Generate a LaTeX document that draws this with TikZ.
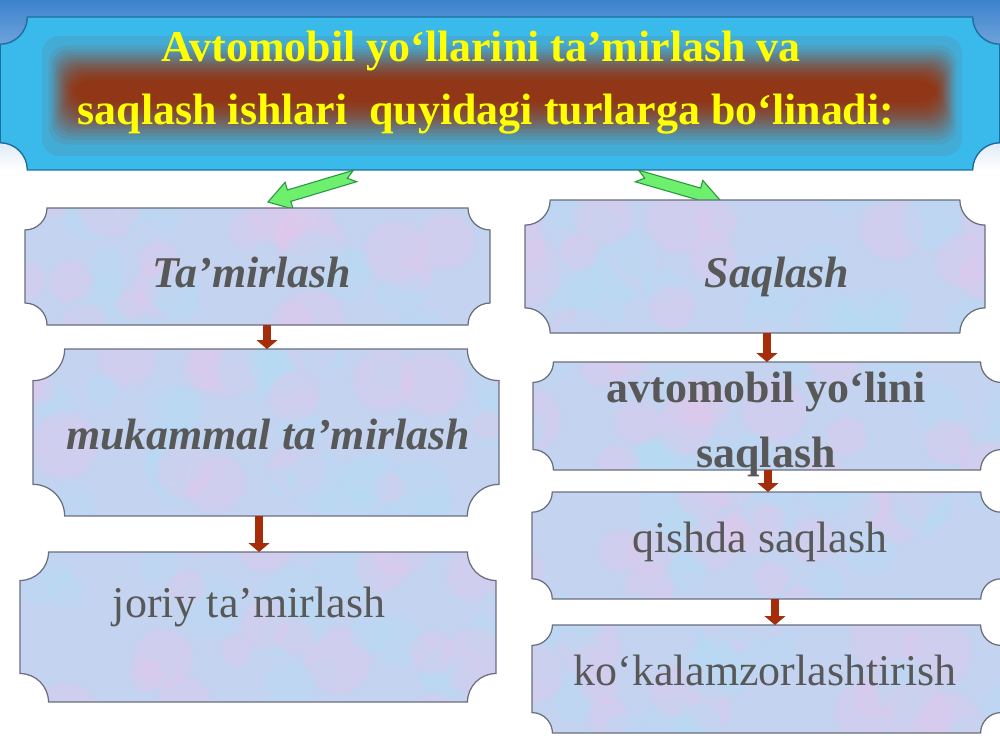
\documentclass[tikz,border=0pt]{standalone}
\usepackage{fontspec}
\setmainfont{Liberation Serif}
\usetikzlibrary{arrows.meta,fadings}
\definecolor{boxfill}{RGB}{196,211,240}
\definecolor{mottlepink}{RGB}{226,200,236}
\definecolor{mottlecyan}{RGB}{182,220,244}
\definecolor{boxline}{RGB}{105,110,125}
\definecolor{txtgray}{RGB}{88,88,88}
\definecolor{bannerblue}{RGB}{58,185,235}
\definecolor{bannerline}{RGB}{30,110,160}
\definecolor{bandred}{RGB}{160,45,5}
\definecolor{titleyellow}{RGB}{255,255,0}
\definecolor{arrowbrown}{RGB}{165,45,10}
\definecolor{arrowgreen}{RGB}{110,240,110}
\definecolor{arrowgreenline}{RGB}{40,150,60}
\definecolor{skytop}{RGB}{60,130,205}

% plaque with concave corners around a node: #1 node, #2 radius, #3 style
\newcommand\plaque[3]{%
 \path[#3] ([xshift=#2]#1.north west) -- ([xshift=-#2]#1.north east)
 .. controls ([xshift=-#2,yshift=-0.55*#2]#1.north east) and ([xshift=-0.55*#2,yshift=-#2]#1.north east) .. ([yshift=-#2]#1.north east)
 -- ([yshift=#2]#1.south east)
 .. controls ([xshift=-0.55*#2,yshift=#2]#1.south east) and ([xshift=-#2,yshift=0.55*#2]#1.south east) .. ([xshift=-#2]#1.south east)
 -- ([xshift=#2]#1.south west)
 .. controls ([xshift=#2,yshift=0.55*#2]#1.south west) and ([xshift=0.55*#2,yshift=#2]#1.south west) .. ([yshift=#2]#1.south west)
 -- ([yshift=-#2]#1.north west)
 .. controls ([xshift=0.55*#2,yshift=-#2]#1.north west) and ([xshift=#2,yshift=-0.55*#2]#1.north west) .. cycle;}

\tikzset{
 area/.style={rectangle, draw=none, inner sep=0pt, outer sep=0pt},
 boxtext/.style={text=txtgray, inner sep=0pt, anchor=base, font=\fontsize{25}{30}\selectfont},
 boldtext/.style={boxtext, font=\fontsize{25}{30}\selectfont\bfseries},
 bitext/.style={boxtext, font=\fontsize{25}{30}\selectfont\bfseries\itshape},
 titletext/.style={text=titleyellow, inner sep=0pt, anchor=base, font=\fontsize{25}{30}\selectfont\bfseries},
 brownarr/.style={draw=arrowbrown, line width=5pt, -{Triangle[width=11.5pt,length=5pt]}},
 greenarr/.style={fill=arrowgreen, draw=arrowgreenline, line width=0.6pt, line join=miter}
}

\begin{document}
\begin{tikzpicture}[x=0.02cm, y=-0.02cm]
\useasboundingbox (0,0) rectangle (1000,750);
\fill[white] (0,0) rectangle (1000,750);
\shade[top color=skytop, bottom color=white] (0,0) rectangle (1000,170);

% banner
\node[area, minimum width=20cm, minimum height=3.06cm] (banner) at (500,93.5) {};
\plaque{banner}{15.5pt}{fill=bannerblue, draw=bannerline, line width=0.8pt}
\foreach \i in {0,...,24}{
  \pgfmathsetmacro\t{sqrt(\i/24)}
  \fill[bandred, opacity=0.09, rounded corners=10pt] ({42+33*\t},{36+46*\t}) rectangle ({962-27*\t},{156-56*\t});
}
\node[titletext] (title1) at (481,62) {Avtomobil yo‘llarini ta’mirlash va};
\node[titletext] (title2) at (486,125) {saqlash ishlari~ quyidagi turlarga bo‘linadi:};

% green arrows
\path[greenarr] (353.3,170.3) -- (287.4,190.0) -- (285.1,182.3) -- (268,202) -- (293.1,209.1) -- (290.8,201.4) -- (356.7,181.7) -- (347.3,178.3) -- cycle;
\path[greenarr] (638.7,170.2) -- (700.6,188.1) -- (702.8,180.4) -- (720,200) -- (695.0,207.4) -- (697.2,199.7) -- (635.3,181.8) -- (644.7,178.2) -- cycle;

% boxes
\node[area, minimum width=9.3cm,  minimum height=2.34cm] (L1) at (257.5,266.5) {};
\node[area, minimum width=9.32cm, minimum height=3.34cm] (L2) at (266,432.5) {};
\node[area, minimum width=9.52cm, minimum height=3.0cm]  (L3) at (258,627) {};
\node[area, minimum width=9.2cm,  minimum height=2.66cm] (R1) at (755,266.5) {};
\node[area, minimum width=9.36cm, minimum height=2.16cm] (R2) at (767,416) {};
\node[area, minimum width=9.38cm, minimum height=2.14cm] (R3) at (766.5,545.5) {};
\node[area, minimum width=9.38cm, minimum height=2.16cm] (R4) at (766.5,679) {};
\pgfmathsetseed{11}
\foreach \b/\r in {L1/12.5pt,L2/18pt,L3/16.2pt,R1/14.3pt,R2/11.6pt,R3/11.5pt,R4/11.6pt}{
  \plaque{\b}{\r}{fill=boxfill}
  \begin{scope}
    \plaque{\b}{\r}{clip}
    \foreach \k in {1,...,40}{
      \pgfmathsetmacro\dx{500*rnd-250}
      \pgfmathsetmacro\dy{180*rnd-90}
      \pgfmathsetmacro\rr{16+22*rnd}
      \pgfmathsetmacro\cc{rnd}
      \ifdim\cc pt<0.45pt \def\tc{mottlepink}\else\def\tc{mottlecyan}\fi
      \fill[\tc, opacity=0.4, path fading=circle with fuzzy edge 20 percent] ([shift={(\dx,\dy)}]\b.center) circle[radius=\rr];
    }
  \end{scope}
  \plaque{\b}{\r}{draw=boxline, line width=0.7pt}
}

% texts
\node[bitext] (tL1) at (252,287) {Ta’mirlash};
\node[bitext] (tL2) at (268,449) {mukammal ta’mirlash};
\node[boxtext] (tL3) at (249,617) {joriy ta’mirlash};
\node[bitext] (tR1) at (777,287) {Saqlash};
\node[boldtext] (tR2a) at (766,402) {avtomobil yo‘lini};
\node[boldtext] (tR2b) at (766,467) {saqlash};
\node[boxtext] (tR3) at (760,552) {qishda saqlash};
\node[boxtext] (tR4) at (765,685) {ko‘kalamzorlashtirish};

% brown arrows
\draw[brownarr] ([xshift=5.39pt]L1.south) -- ([xshift=5.39pt]L1.south |- L2.north);
\draw[brownarr] ([xshift=-3.97pt]L2.south) -- ([xshift=-3.97pt]L2.south |- L3.north);
\draw[brownarr] ([xshift=6.8pt]R1.south) -- ([xshift=6.8pt]R1.south |- R2.north);
\draw[brownarr] ([xshift=0.57pt]R2.south) -- ([xshift=0.57pt]R2.south |- R3.north);
\draw[brownarr] ([xshift=4.82pt]R3.south) -- ([xshift=4.82pt]R3.south |- R4.north);
\end{tikzpicture}
\end{document}
